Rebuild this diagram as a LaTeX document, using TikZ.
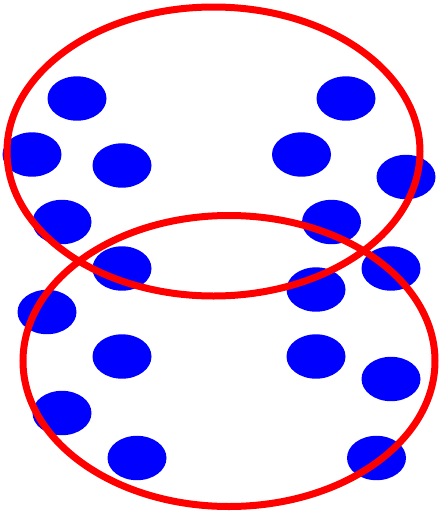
\documentclass[tikz,border=0pt]{standalone}
\usepackage{tikz}

\begin{document}
\begin{tikzpicture}[x=1pt, y=-1pt,
  blob/.style={fill=blue},
  ring/.style={draw=red, line width=7pt}]
% Khung hình
\useasboundingbox (0,0) rectangle (440,512);

% Các chấm xanh
\foreach \px/\py in {77/98.5, 346/98.5, 32/154.5, 122/165.5, 301.5/154.5, 406/177,
  62/222, 331.5/222, 122/268.5, 316/289.5, 391/268.5, 47/312,
  122/356.5, 316/356.5, 391/379, 62/413, 137/458, 376.5/458}
  \fill[blob] (\px,\py) ellipse [x radius=29.5pt, y radius=22.2pt];

% Hai vòng đỏ
\draw[ring] (213.5,151.5) ellipse [x radius=206.5pt, y radius=144.5pt];
\draw[ring] (229,361) ellipse [x radius=206pt, y radius=145.5pt];
\end{tikzpicture}
\end{document}
